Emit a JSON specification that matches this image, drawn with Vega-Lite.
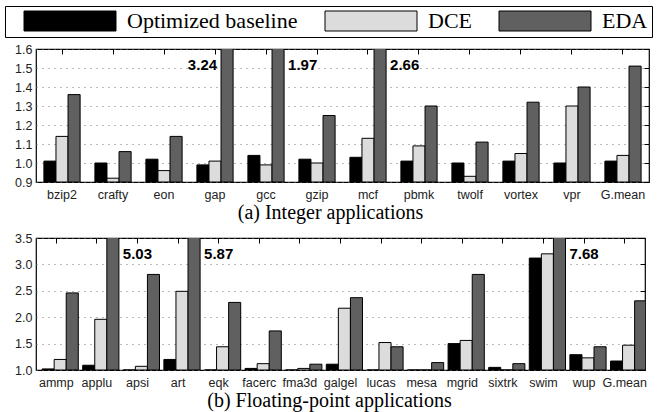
{
  "$schema": "https://vega.github.io/schema/vega-lite/v6.json",
  "padding": {"left": 4, "top": 5, "right": 5, "bottom": 2},
  "datasets": {
    "int": [
      {"b": "bzip2", "s": "Optimized baseline", "v": 1.01}, {"b": "bzip2", "s": "DCE", "v": 1.14}, {"b": "bzip2", "s": "EDA", "v": 1.36},
      {"b": "crafty", "s": "Optimized baseline", "v": 1.0}, {"b": "crafty", "s": "DCE", "v": 0.92}, {"b": "crafty", "s": "EDA", "v": 1.06},
      {"b": "eon", "s": "Optimized baseline", "v": 1.02}, {"b": "eon", "s": "DCE", "v": 0.96}, {"b": "eon", "s": "EDA", "v": 1.14},
      {"b": "gap", "s": "Optimized baseline", "v": 0.99}, {"b": "gap", "s": "DCE", "v": 1.01}, {"b": "gap", "s": "EDA", "v": 3.24},
      {"b": "gcc", "s": "Optimized baseline", "v": 1.04}, {"b": "gcc", "s": "DCE", "v": 0.99}, {"b": "gcc", "s": "EDA", "v": 1.97},
      {"b": "gzip", "s": "Optimized baseline", "v": 1.02}, {"b": "gzip", "s": "DCE", "v": 1.0}, {"b": "gzip", "s": "EDA", "v": 1.25},
      {"b": "mcf", "s": "Optimized baseline", "v": 1.03}, {"b": "mcf", "s": "DCE", "v": 1.13}, {"b": "mcf", "s": "EDA", "v": 2.66},
      {"b": "pbmk", "s": "Optimized baseline", "v": 1.01}, {"b": "pbmk", "s": "DCE", "v": 1.09}, {"b": "pbmk", "s": "EDA", "v": 1.3},
      {"b": "twolf", "s": "Optimized baseline", "v": 1.0}, {"b": "twolf", "s": "DCE", "v": 0.93}, {"b": "twolf", "s": "EDA", "v": 1.11},
      {"b": "vortex", "s": "Optimized baseline", "v": 1.01}, {"b": "vortex", "s": "DCE", "v": 1.05}, {"b": "vortex", "s": "EDA", "v": 1.32},
      {"b": "vpr", "s": "Optimized baseline", "v": 1.0}, {"b": "vpr", "s": "DCE", "v": 1.3}, {"b": "vpr", "s": "EDA", "v": 1.4},
      {"b": "G.mean", "s": "Optimized baseline", "v": 1.01}, {"b": "G.mean", "s": "DCE", "v": 1.04}, {"b": "G.mean", "s": "EDA", "v": 1.51}
    ],
    "fp": [
      {"b": "ammp", "s": "Optimized baseline", "v": 1.02}, {"b": "ammp", "s": "DCE", "v": 1.2}, {"b": "ammp", "s": "EDA", "v": 2.46},
      {"b": "applu", "s": "Optimized baseline", "v": 1.09}, {"b": "applu", "s": "DCE", "v": 1.96}, {"b": "applu", "s": "EDA", "v": 5.03},
      {"b": "apsi", "s": "Optimized baseline", "v": 1.0}, {"b": "apsi", "s": "DCE", "v": 1.07}, {"b": "apsi", "s": "EDA", "v": 2.81},
      {"b": "art", "s": "Optimized baseline", "v": 1.2}, {"b": "art", "s": "DCE", "v": 2.49}, {"b": "art", "s": "EDA", "v": 5.87},
      {"b": "eqk", "s": "Optimized baseline", "v": 1.0}, {"b": "eqk", "s": "DCE", "v": 1.44}, {"b": "eqk", "s": "EDA", "v": 2.28},
      {"b": "facerc", "s": "Optimized baseline", "v": 1.03}, {"b": "facerc", "s": "DCE", "v": 1.12}, {"b": "facerc", "s": "EDA", "v": 1.74},
      {"b": "fma3d", "s": "Optimized baseline", "v": 1.0}, {"b": "fma3d", "s": "DCE", "v": 1.03}, {"b": "fma3d", "s": "EDA", "v": 1.11},
      {"b": "galgel", "s": "Optimized baseline", "v": 1.11}, {"b": "galgel", "s": "DCE", "v": 2.17}, {"b": "galgel", "s": "EDA", "v": 2.37},
      {"b": "lucas", "s": "Optimized baseline", "v": 1.0}, {"b": "lucas", "s": "DCE", "v": 1.52}, {"b": "lucas", "s": "EDA", "v": 1.44},
      {"b": "mesa", "s": "Optimized baseline", "v": 1.0}, {"b": "mesa", "s": "DCE", "v": 1.0}, {"b": "mesa", "s": "EDA", "v": 1.14},
      {"b": "mgrid", "s": "Optimized baseline", "v": 1.5}, {"b": "mgrid", "s": "DCE", "v": 1.56}, {"b": "mgrid", "s": "EDA", "v": 2.81},
      {"b": "sixtrk", "s": "Optimized baseline", "v": 1.05}, {"b": "sixtrk", "s": "DCE", "v": 1.0}, {"b": "sixtrk", "s": "EDA", "v": 1.12},
      {"b": "swim", "s": "Optimized baseline", "v": 3.12}, {"b": "swim", "s": "DCE", "v": 3.2}, {"b": "swim", "s": "EDA", "v": 7.68},
      {"b": "wup", "s": "Optimized baseline", "v": 1.29}, {"b": "wup", "s": "DCE", "v": 1.23}, {"b": "wup", "s": "EDA", "v": 1.44},
      {"b": "G.mean", "s": "Optimized baseline", "v": 1.17}, {"b": "G.mean", "s": "DCE", "v": 1.47}, {"b": "G.mean", "s": "EDA", "v": 2.31}
    ]
  },
  "config": {
    "view": {"stroke": "#000", "strokeWidth": 1.2},
    "font": "Liberation Sans",
    "axis": {"labelFont": "Liberation Sans", "labelFontSize": 12.5, "labelColor": "#222", "domain": false, "tickColor": "#000"},
    "axisX": {"labelAngle": 0, "ticks": false, "labelPadding": 6, "titleFont": "Liberation Serif", "titleFontSize": 20, "titleFontWeight": "normal", "titleColor": "#000", "titlePadding": 2},
    "axisY": {"gridColor": "#777", "gridDash": [1, 5], "gridWidth": 1, "ticks": false, "labelPadding": 4, "title": null},
    "concat": {"spacing": 7}
  },
  "resolve": {"scale": {"color": "shared"}},
  "vconcat": [
    {
      "width": 613, "height": 133,
      "data": {"name": "int"},
      "resolve": {"axis": {"x": "independent", "y": "independent"}},
      "layer": [
        {
          "mark": {"type": "bar", "clip": true, "stroke": "#000", "strokeWidth": 1},
          "encoding": {
            "x": {"field": "b", "type": "nominal", "sort": null, "scale": {"paddingInner": 0.29, "paddingOuter": 0.155}, "axis": {"title": "(a)  Integer  applications", "titleX": 294, "titleAlign": "center"}},
            "xOffset": {"field": "s", "type": "nominal", "sort": ["Optimized baseline", "DCE", "EDA"]},
            "y": {"field": "v", "type": "quantitative", "stack": null, "scale": {"domain": [0.9, 1.6], "zero": false, "nice": false}, "axis": {"values": [0.9, 1.0, 1.1, 1.2, 1.3, 1.4, 1.5, 1.6], "format": ".1f"}},
            "color": {"field": "s", "type": "nominal", "sort": ["Optimized baseline", "DCE", "EDA"],
              "scale": {"domain": ["Optimized baseline", "DCE", "EDA"], "range": ["#000000", "#dcdcdc", "#606060"]},
              "legend": {"orient": "none", "legendX": -31, "legendY": -43, "direction": "horizontal", "title": null, "symbolType": "M-1,-1L8.2,-1L8.2,1L-1,1Z", "symbolSize": 400, "symbolOffset": 14, "symbolStrokeColor": "#000", "symbolStrokeWidth": 1, "symbolOpacity": 1, "labelFont": "Liberation Serif", "labelFontSize": 22, "labelColor": "#000", "labelLimit": 300, "labelOffset": 82, "columnPadding": 12, "strokeColor": "#000", "padding": 4}}
          }
        },
        {
          "transform": [{"filter": "datum.v > 1.6 && datum.b != 'gap'"}],
          "mark": {"type": "text", "align": "left", "baseline": "top", "dx": 10, "dy": 9, "fontWeight": "bold", "fontSize": 15, "color": "#000"},
          "encoding": {
            "x": {"field": "b", "type": "nominal", "sort": null, "axis": {"orient": "top", "labels": false, "title": null, "ticks": true, "tickSize": 5, "offset": -5}},
            "xOffset": {"field": "s", "type": "nominal", "sort": ["Optimized baseline", "DCE", "EDA"]},
            "y": {"datum": 1.6, "type": "quantitative", "axis": {"orient": "right", "labels": false, "grid": false, "ticks": true, "tickSize": 5, "offset": -5, "values": [0.9, 1.0, 1.1, 1.2, 1.3, 1.4, 1.5, 1.6]}},
            "text": {"field": "v", "type": "quantitative", "format": ".2f"}
          }
        },
        {
          "transform": [{"filter": "datum.v > 1.6 && datum.b == 'gap'"}],
          "mark": {"type": "text", "align": "right", "baseline": "top", "dx": -10, "dy": 9, "fontWeight": "bold", "fontSize": 15, "color": "#000"},
          "encoding": {
            "x": {"field": "b", "type": "nominal", "sort": null, "axis": null},
            "xOffset": {"field": "s", "type": "nominal", "sort": ["Optimized baseline", "DCE", "EDA"]},
            "y": {"datum": 1.6, "type": "quantitative", "axis": null},
            "text": {"field": "v", "type": "quantitative", "format": ".2f"}
          }
        }
      ]
    },
    {
      "width": 609, "height": 132,
      "data": {"name": "fp"},
      "resolve": {"axis": {"x": "independent", "y": "independent"}},
      "layer": [
        {
          "mark": {"type": "bar", "clip": true, "stroke": "#000", "strokeWidth": 1},
          "encoding": {
            "x": {"field": "b", "type": "nominal", "sort": null, "scale": {"paddingInner": 0.3, "paddingOuter": 0.15}, "axis": {"title": "(b) Floating-point applications", "titleX": 293, "titleAlign": "center"}},
            "xOffset": {"field": "s", "type": "nominal", "sort": ["Optimized baseline", "DCE", "EDA"]},
            "y": {"field": "v", "type": "quantitative", "stack": null, "scale": {"domain": [1.0, 3.5], "zero": false, "nice": false}, "axis": {"values": [1.0, 1.5, 2.0, 2.5, 3.0, 3.5], "format": ".1f"}},
            "color": {"field": "s", "type": "nominal", "sort": ["Optimized baseline", "DCE", "EDA"], "scale": {"domain": ["Optimized baseline", "DCE", "EDA"], "range": ["#000000", "#dcdcdc", "#606060"]}}
          }
        },
        {
          "transform": [{"filter": "datum.v > 3.5"}],
          "mark": {"type": "text", "align": "left", "baseline": "top", "dx": 10, "dy": 9, "fontWeight": "bold", "fontSize": 15, "color": "#000"},
          "encoding": {
            "x": {"field": "b", "type": "nominal", "sort": null, "axis": {"orient": "top", "labels": false, "title": null, "ticks": true, "tickSize": 5, "offset": -5}},
            "xOffset": {"field": "s", "type": "nominal", "sort": ["Optimized baseline", "DCE", "EDA"]},
            "y": {"datum": 3.5, "type": "quantitative", "axis": {"orient": "right", "labels": false, "grid": false, "ticks": true, "tickSize": 5, "offset": -5, "values": [1.0, 1.5, 2.0, 2.5, 3.0, 3.5]}},
            "text": {"field": "v", "type": "quantitative", "format": ".2f"}
          }
        }
      ]
    }
  ]
}
